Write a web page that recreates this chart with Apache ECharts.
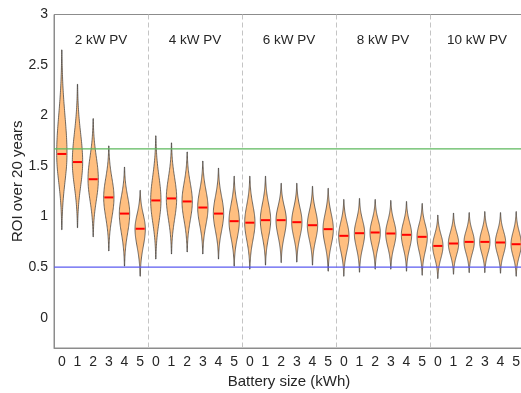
<!DOCTYPE html>
<html>
<head>
<meta charset="utf-8">
<script src="https://cdn.jsdelivr.net/npm/echarts@6/dist/echarts.min.js"></script>
<style>html,body{margin:0;padding:0;background:#fff;}#c{width:521px;height:393px;}</style>
</head>
<body>
<div id="c"></div>
<script>
const groupNames = ['2 kW PV', '4 kW PV', '6 kW PV', '8 kW PV', '10 kW PV'];
const batterySizes = ['0', '1', '2', '3', '4', '5'];
const medians = [1.62, 1.54, 1.37, 1.19, 1.03, 0.88,
                 1.16, 1.18, 1.15, 1.09, 1.03, 0.955,
                 0.94, 0.965, 0.965, 0.945, 0.915, 0.876,
                 0.81, 0.836, 0.843, 0.833, 0.82, 0.80,
                 0.71, 0.734, 0.75, 0.75, 0.744, 0.727];
const lowTips = [0.87, 0.89, 0.80, 0.66, 0.51, 0.41,
                 0.58, 0.63, 0.65, 0.63, 0.58, 0.51,
                 0.48, 0.52, 0.545, 0.55, 0.52, 0.46,
                 0.41, 0.45, 0.48, 0.48, 0.46, 0.42,
                 0.387, 0.43, 0.446, 0.446, 0.44, 0.41];
const highTips = [2.65, 2.31, 1.97, 1.70, 1.49, 1.26,
                  1.80, 1.73, 1.64, 1.55, 1.48, 1.40,
                  1.40, 1.40, 1.33, 1.33, 1.30, 1.28,
                  1.17, 1.18, 1.17, 1.16, 1.15, 1.13,
                  1.015, 1.035, 1.04, 1.05, 1.04, 1.05];
const yTicks = [0, 0.5, 1, 1.5, 2, 2.5, 3];
const refValues = [1.67, 0.5];
const refColors = ['#5cb85c', '#5b5bf0'];

const FONT = 'Liberation Sans, Arial, Helvetica, sans-serif';
const TXT = '#262626';

const cats = [];
groupNames.forEach(() => batterySizes.forEach(b => cats.push(b)));
const violinData = medians.map((m, i) => [i, m, lowTips[i], highTips[i]]);
const sepData = [];
for (let g = 1; g < groupNames.length; g++) sepData.push([g * batterySizes.length - 1]);
const labelData = groupNames.map((n, g) => [g]);
const refData = refValues.map((v, i) => [0, v, i]);

const chart = echarts.init(document.getElementById('c'));
chart.setOption({
  animation: false,
  grid: { left: 54, right: -3, top: 14.5, bottom: 45, show: true, borderColor: '#8c8c8c', borderWidth: 1,
          containLabel: false, outerBoundsMode: 'none' },
  xAxis: {
    type: 'category', data: cats,
    axisLine: { onZero: false, lineStyle: { color: '#8c8c8c' } },
    axisTick: { show: false },
    axisLabel: { color: TXT, fontSize: 14, fontFamily: FONT, margin: 7, interval: 0 },
    name: 'Battery size (kWh)', nameLocation: 'middle', nameGap: 26, nameMoveOverlap: false,
    nameTextStyle: { color: TXT, fontSize: 15, fontFamily: FONT }
  },
  yAxis: {
    type: 'value', min: -0.3, max: 3,
    axisLine: { show: true, lineStyle: { color: '#8c8c8c' } },
    axisTick: { show: false },
    splitLine: { show: false },
    axisLabel: { color: TXT, fontSize: 14, fontFamily: FONT, margin: 6, customValues: yTicks },
    name: 'ROI over 20 years', nameLocation: 'middle', nameGap: 29, nameMoveOverlap: false,
    nameTextStyle: { color: TXT, fontSize: 15, fontFamily: FONT }
  },
  series: [
    {
      type: 'custom', z: 1, silent: true,
      data: sepData,
      renderItem(params, api) {
        const cs = params.coordSys;
        const bw = api.size([1, 0])[0];
        const x = Math.round(api.coord([api.value(0), 0])[0] + bw / 2) + 0.5;
        return { type: 'line', shape: { x1: x, y1: cs.y, x2: x, y2: cs.y + cs.height },
          style: { stroke: '#c4c4c4', lineWidth: 1, lineDash: [5, 3] } };
      }
    },
    {
      type: 'custom', z: 2, silent: true,
      data: violinData,
      renderItem(params, api) {
        const idx = api.value(0), med = api.value(1), lo = api.value(2), hi = api.value(3);
        const bw = api.size([1, 0])[0];
        const cx = api.coord([idx, med])[0];
        const halfW = bw * 0.33;
        const sdU = (hi - med) / 2.7, sdD = (med - lo) / 2.7;
        const N = 80, right = [], left = [];
        for (let k = 0; k <= N; k++) {
          const v = lo + (hi - lo) * k / N;
          const sd = v >= med ? sdU : sdD;
          const d = Math.exp(-0.5 * Math.pow((v - med) / sd, 2));
          const y = api.coord([idx, v])[1];
          right.push([cx + halfW * d, y]);
          left.unshift([cx - halfW * d, y]);
        }
        const my = api.coord([idx, med])[1];
        return { type: 'group', children: [
          { type: 'polygon', shape: { points: right.concat(left) },
            style: { fill: '#ffbf80', stroke: '#333333', lineWidth: 0.7 } },
          { type: 'line', shape: { x1: cx - 4.5, y1: my, x2: cx + 4.5, y2: my },
            style: { stroke: '#ff0000', lineWidth: 2 } }
        ] };
      }
    },
    {
      type: 'custom', z: 4, silent: true,
      data: refData,
      renderItem(params, api) {
        const cs = params.coordSys;
        const y = api.coord([0, api.value(1)])[1];
        return { type: 'rect', shape: { x: cs.x, y: y - 0.6, width: cs.width, height: 1.2 },
          style: { fill: refColors[api.value(2)] } };
      }
    },
    {
      type: 'custom', z: 3, silent: true,
      data: labelData,
      renderItem(params, api) {
        const g = api.value(0);
        const n = batterySizes.length;
        const x = (api.coord([g * n + 2, 0])[0] + api.coord([g * n + 3, 0])[0]) / 2;
        const y = params.coordSys.y + 26;
        return { type: 'text', x: x, y: y,
          style: { text: groupNames[g], fill: TXT, font: '13.5px ' + FONT, align: 'center', verticalAlign: 'middle' } };
      }
    }
  ]
});
</script>
</body>
</html>
